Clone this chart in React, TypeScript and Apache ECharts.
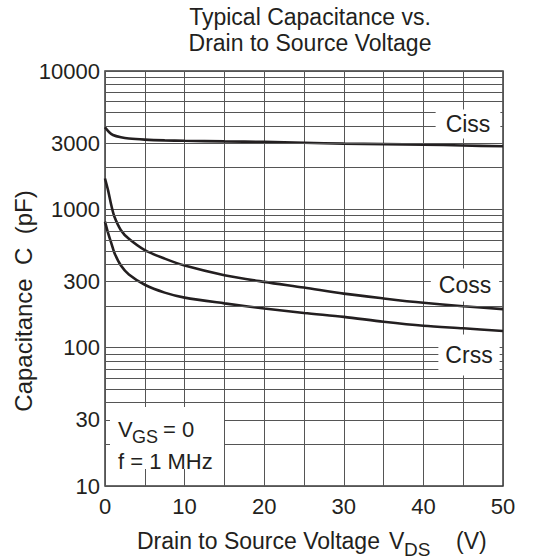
import React, { useEffect, useRef } from "react";
import * as echarts from "echarts";

// ---- data ----
const cissV = [0, 0.5, 1, 2, 3, 5, 7.5, 10, 15, 20, 25, 30, 35, 40, 45, 50];
const cissC = [3920, 3620, 3450, 3320, 3250, 3190, 3150, 3130, 3100, 3075, 3030, 2985, 2960, 2935, 2895, 2855];

const ossV = [0, 0.4, 0.8, 1.2, 2, 3, 5, 7.5, 10, 15, 20, 25, 30, 35, 40, 45, 50];
const cossC = [1670, 1360, 1065, 880, 707, 612, 507, 440, 392, 334, 299, 272, 246, 227, 211, 199, 190];
const crssC = [815, 670, 568, 482, 392, 338, 285, 250, 230, 209, 192, 178, 167, 154, 144, 138, 132];

const minorGrid = [20, 30, 40, 50, 60, 70, 80, 90, 200, 300, 400, 500, 600, 700, 800, 900, 2000, 3000, 4000, 5000, 6000, 7000, 8000, 9000];
const extraLabels = [30, 300, 3000];
const xLabelStep = 10;

const FONT = '"Liberation Sans", Arial, Helvetica, sans-serif';
const INK = "#231f20";
const GRIDC = "#555";

export default function App() {
  const ref = useRef<HTMLDivElement>(null);
  useEffect(() => {
    if (!ref.current) return;
    const chart = echarts.init(ref.current, null, { renderer: "svg" });
    const pairs = (xs: number[], ys: number[]) => xs.map((x, i) => [x, ys[i]]);
    const lineSeries = (name: string, data: number[][]) => ({
      name,
      type: "line",
      data,
      showSymbol: false,
      symbol: "none",
      smooth: 0.3,
      z: 3,
      silent: true,
      lineStyle: { color: INK, width: 2.6 },
    });
    const txt = (x: number, y: number, text: string, size = 23, extra: any = {}) => ({
      type: "text",
      x,
      y,
      z: 100,
      silent: true,
      style: {
        text,
        fontSize: size,
        fontFamily: FONT,
        fill: INK,
        textAlign: "left",
        textVerticalAlign: "middle",
        ...extra,
      },
    });
    const boxLabel = (cx: number, cy: number, text: string, pad: number[]) => ({
      type: "text",
      x: cx,
      y: cy,
      z: 100,
      silent: true,
      style: {
        text,
        fontSize: 23,
        fontFamily: FONT,
        fill: INK,
        textAlign: "center",
        textVerticalAlign: "middle",
        backgroundColor: "#fff",
        padding: pad,
      },
    });
    chart.setOption({
      animation: false,
      grid: {
        left: 105,
        top: 71,
        right: 44,
        bottom: 74,
        show: true,
        borderColor: "#3a3a3a",
        borderWidth: 1.5,
      },
      xAxis: {
        type: "value",
        min: 0,
        max: 50,
        interval: 5,
        axisLine: { show: false },
        axisTick: { show: false },
        splitLine: { show: true, lineStyle: { color: GRIDC, width: 1 } },
        axisLabel: {
          margin: 9,
          fontSize: 22,
          fontFamily: FONT,
          color: INK,
          formatter: (v: number) => (v % xLabelStep === 0 ? String(v) : ""),
        },
      },
      yAxis: {
        type: "log",
        logBase: 10,
        min: 10,
        max: 10000,
        axisLine: { show: false },
        axisTick: { show: false },
        splitLine: { show: true, lineStyle: { color: GRIDC, width: 1 } },
        axisLabel: {
          margin: 5,
          fontSize: 22,
          fontFamily: FONT,
          color: INK,
          formatter: (v: number) => String(Math.round(v)),
        },
      },
      series: [
        {
          type: "line",
          data: [],
          z: 1,
          silent: true,
          markLine: {
            silent: true,
            symbol: ["none", "none"],
            animation: false,
            lineStyle: { color: GRIDC, width: 1, type: "solid" },
            emphasis: { disabled: true },
            data: minorGrid.map((v) => ({
              yAxis: v,
              label: extraLabels.includes(v)
                ? {
                    show: true,
                    position: "start",
                    distance: 5,
                    formatter: String(v),
                    fontSize: 22,
                    fontFamily: FONT,
                    color: INK,
                  }
                : { show: false },
            })),
          },
        },
        lineSeries("Ciss", pairs(cissV, cissC)),
        lineSeries("Coss", pairs(ossV, cossC)),
        lineSeries("Crss", pairs(ossV, crssC)),
      ],
      graphic: [
        txt(310, 4, "Typical Capacitance vs.\nDrain to Source Voltage", 23, {
          textAlign: "center",
          textVerticalAlign: "top",
          lineHeight: 26,
        }),
        {
          type: "text",
          x: 23,
          y: 301,
          rotation: Math.PI / 2,
          z: 100,
          silent: true,
          style: {
            text: "Capacitance  C  (pF)",
            fontSize: 24,
            fontFamily: FONT,
            fill: INK,
            textAlign: "center",
            textVerticalAlign: "middle",
          },
        },
        txt(137, 541, "Drain to Source Voltage"),
        txt(389, 541, "V"),
        txt(404, 549, "DS", 19),
        txt(456, 541, "(V)"),
        {
          type: "rect",
          z: 90,
          silent: true,
          shape: { x: 110, y: 407, width: 114, height: 62 },
          style: { fill: "#fff" },
        },
        txt(118, 429, "V", 22),
        txt(132, 437, "GS", 18),
        txt(163, 429, "= 0", 22),
        txt(118, 461, "f = 1 MHz", 22),
        boxLabel(468, 124, "Ciss", [3, 10, 3, 10]),
        boxLabel(465, 285, "Coss", [5, 8, 5, 8]),
        boxLabel(469, 355, "Crss", [9, 7, 9, 7]),
      ],
    });
    return () => chart.dispose();
  }, []);
  return (
    <div
      ref={ref}
      style={{ position: "absolute", left: 0, top: 0, width: 547, height: 560, background: "#fff" }}
    />
  );
}
